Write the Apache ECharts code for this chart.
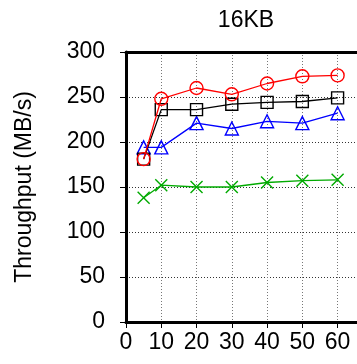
<!DOCTYPE html>
<html>
<head>
<meta charset="utf-8">
<script src="https://cdn.jsdelivr.net/npm/echarts@6/dist/echarts.min.js"></script>
<style>
  html, body { margin: 0; padding: 0; background: #fff; }
  #chart { width: 357px; height: 364px; }
</style>
</head>
<body>
<div id="chart"></div>
<script>
// Throughput vs. number of clients, 16KB requests
const clients = [5, 10, 20, 30, 40, 50, 60];
const redCircle = [181, 248, 260, 253, 265, 273, 274];
const blackSquare = [181, 236, 236, 242, 244, 245, 249];
const blueTriangle = [194, 194, 221, 215, 223, 221, 232];
const greenCross = [138, 152, 150, 150, 155, 157, 158];
const xTicks = [0, 10, 20, 30, 40, 50, 60];

const crossPath = 'path://M0,0L10,10M10,0L0,10';
const FONT = 'Liberation Sans';

function pairs(ys) {
  return clients.map((x, i) => [x, ys[i]]);
}

function lineSeries(name, ys, color, symbol, size, z) {
  return {
    name: name,
    type: 'line',
    data: pairs(ys),
    symbol: symbol,
    symbolSize: size,
    showAllSymbol: true,
    z: z,
    lineStyle: { color: color, width: 1.3 },
    itemStyle: {
      color: symbol === crossPath ? 'none' : 'rgba(255,255,255,0)',
      borderColor: color,
      borderWidth: 1.4
    },
    emphasis: { disabled: true },
    animation: false
  };
}

const chart = echarts.init(document.getElementById('chart'), null, { renderer: 'canvas' });
chart.setOption({
  animation: false,
  title: {
    text: '16KB',
    left: 241,
    top: 4,
    textAlign: 'center',
    textStyle: { fontFamily: FONT, fontSize: 23, fontWeight: 'normal', color: '#000' }
  },
  grid: {
    left: 126, right: -2, top: 52, bottom: 42
  },
  xAxis: [{
    type: 'value',
    min: 0,
    max: 65.5,
    interval: 10,
    axisLine: { show: true, lineStyle: { color: '#000', width: 3 } },
    axisTick: { show: true, inside: false, length: 6, lineStyle: { color: '#000', width: 1 }, customValues: xTicks },
    axisLabel: {
      customValues: xTicks,
      margin: 9,
      fontFamily: FONT, fontSize: 23, color: '#000'
    },
    splitLine: { show: true, lineStyle: { color: '#777', type: [1, 2], width: 1 } }
  }, {
    // top frame line
    type: 'value',
    position: 'top',
    min: 0,
    max: 65.5,
    axisLine: { show: true, onZero: false, lineStyle: { color: '#000', width: 3 } },
    axisTick: { show: false },
    axisLabel: { show: false },
    splitLine: { show: false }
  }],
  yAxis: {
    type: 'value',
    min: 0,
    max: 300,
    interval: 50,
    name: 'Throughput (MB/s)',
    nameLocation: 'middle',
    nameGap: 90,
    nameTextStyle: { fontFamily: FONT, fontSize: 23, color: '#000' },
    axisLine: { show: true, lineStyle: { color: '#000', width: 3 } },
    axisTick: { show: true, inside: false, length: 6, lineStyle: { color: '#000', width: 1 } },
    axisLabel: {
      margin: 21,
      fontFamily: FONT, fontSize: 23, color: '#000'
    },
    splitLine: { show: true, lineStyle: { color: '#333', type: [1, 2], width: 1 } }
  },
  series: [
    lineSeries('green', greenCross, '#00aa00', crossPath, 12, 2),
    lineSeries('blue', blueTriangle, '#0000ff', 'triangle', 13, 3),
    lineSeries('black', blackSquare, '#000000', 'rect', 12, 4),
    lineSeries('red', redCircle, '#ff0000', 'circle', 13, 5)
  ]
});
</script>
</body>
</html>
